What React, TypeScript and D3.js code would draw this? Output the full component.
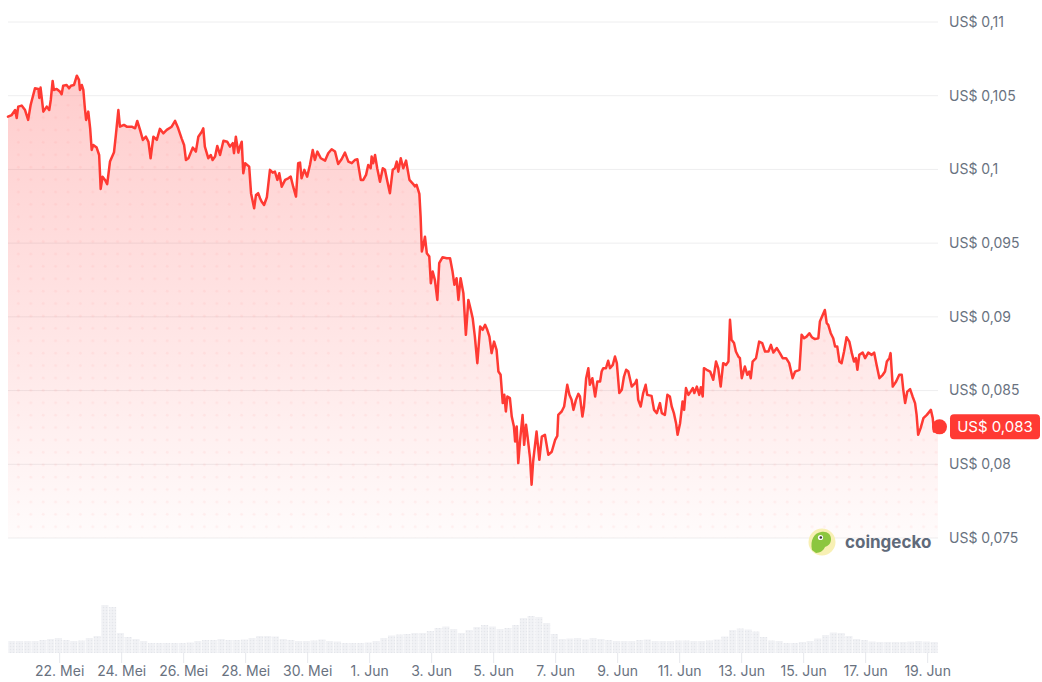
import React from 'react';
import * as d3 from 'd3';

const START = new Date(2025, 4, 20, 8, 0, 0);
const DAY = 86400000;
const SPAN_DAYS = 30;

// [days since start, price in USD]
const priceSeries: [number, number][] = [
  [0,0.10358],[0.12,0.10369],[0.23,0.10403],[0.28,0.10349],[0.33,0.10426],[0.44,0.10433],[0.55,0.10403],[0.65,0.10336],[0.73,0.10437],[0.87,0.10550],[0.98,0.10546],[1.01,0.10485],[1.05,0.10555],[1.14,0.10392],[1.25,0.10426],[1.33,0.10403],[1.38,0.10471],[1.44,0.10600],[1.48,0.10539],[1.57,0.10546],[1.68,0.10527],[1.73,0.10510],[1.78,0.10568],[1.89,0.10573],[1.97,0.10550],[2.03,0.10568],[2.13,0.10573],[2.22,0.10636],[2.29,0.10607],[2.32,0.10539],[2.38,0.10573],[2.43,0.10539],[2.48,0.10415],[2.52,0.10336],[2.59,0.10392],[2.65,0.10279],[2.70,0.10132],[2.75,0.10166],[2.86,0.10148],[2.94,0.10098],[2.99,0.09868],[3.05,0.09951],[3.13,0.09929],[3.20,0.09900],[3.29,0.10053],[3.42,0.10117],[3.48,0.10234],[3.56,0.10403],[3.61,0.10290],[3.74,0.10302],[3.83,0.10290],[3.99,0.10290],[4.10,0.10279],[4.17,0.10329],[4.26,0.10268],[4.35,0.10200],[4.45,0.10222],[4.53,0.10188],[4.60,0.10076],[4.69,0.10222],[4.80,0.10200],[4.90,0.10275],[5.01,0.10245],[5.12,0.10268],[5.28,0.10290],[5.39,0.10329],[5.49,0.10279],[5.60,0.10211],[5.68,0.10166],[5.74,0.10064],[5.82,0.10076],[5.96,0.10148],[6.06,0.10121],[6.14,0.10222],
  [6.25,0.10256],[6.30,0.10279],[6.35,0.10155],[6.46,0.10076],[6.54,0.10098],[6.60,0.10064],[6.68,0.10087],[6.75,0.10159],[6.84,0.10098],[6.95,0.10195],[7.07,0.10188],[7.16,0.10155],[7.25,0.10178],[7.29,0.10110],[7.35,0.10222],[7.43,0.10114],[7.48,0.10155],[7.54,0.10188],[7.59,0.09974],[7.65,0.10042],[7.78,0.10019],[7.84,0.09839],[7.94,0.09737],[8.00,0.09827],[8.07,0.09839],[8.13,0.09805],[8.18,0.09782],[8.26,0.09759],[8.35,0.09811],[8.45,0.09997],[8.54,0.09978],[8.61,0.09985],[8.69,0.09929],[8.75,0.09974],[8.83,0.09883],[8.94,0.09929],[9.04,0.09940],[9.12,0.09951],[9.20,0.09883],[9.29,0.09816],[9.36,0.10042],[9.42,0.10046],[9.47,0.09940],[9.56,0.09997],[9.65,0.09951],[9.74,0.10030],[9.83,0.10132],[9.90,0.10064],[9.98,0.10121],[10.09,0.10076],[10.23,0.10060],[10.33,0.10110],[10.44,0.10137],[10.55,0.10121],[10.65,0.10037],[10.76,0.10069],[10.87,0.10114],[10.98,0.10053],[11.09,0.10042],[11.19,0.10064],[11.27,0.10069],[11.38,0.09929],[11.46,0.09929],[11.55,0.09963],[11.62,0.10030],[11.70,0.10008],[11.73,0.10087],[11.78,0.10042],[11.84,0.10098],[11.91,0.10008],[12.00,0.09917],[12.09,0.10008],[12.16,0.09997],[12.24,0.09917],[12.32,0.09839],[12.41,0.09997],[12.48,0.10008],[12.54,0.10053],[12.59,0.09985],[12.67,0.10076],[12.75,0.10008],[12.84,0.10060],[12.95,0.09929],[13.05,0.09906],[13.13,0.09885],[13.18,0.09895],[13.27,0.09834],
  [13.31,0.09680],[13.35,0.09443],[13.40,0.09488],[13.45,0.09544],[13.51,0.09432],[13.59,0.09409],[13.64,0.09228],[13.70,0.09307],[13.77,0.09251],[13.85,0.09115],[13.91,0.09364],[14.02,0.09405],[14.15,0.09398],[14.26,0.09398],[14.34,0.09307],[14.40,0.09217],[14.47,0.09262],[14.53,0.09115],[14.60,0.09262],[14.69,0.09161],[14.77,0.08878],[14.85,0.09115],[14.93,0.09047],[14.99,0.08991],[15.06,0.08866],[15.14,0.08686],[15.23,0.08934],[15.31,0.08912],[15.39,0.08946],[15.46,0.08912],[15.53,0.08866],[15.60,0.08754],[15.68,0.08832],[15.76,0.08776],[15.82,0.08629],[15.89,0.08607],[15.96,0.08415],[16.01,0.08471],[16.06,0.08358],[16.11,0.08460],[16.19,0.08449],[16.25,0.08324],[16.32,0.08256],[16.36,0.08154],[16.41,0.08256],[16.46,0.08008],[16.52,0.08166],[16.60,0.08335],[16.65,0.08132],[16.71,0.08268],[16.76,0.08188],[16.84,0.08042],[16.89,0.07861],[16.94,0.08019],[17.05,0.08222],[17.14,0.08030],[17.22,0.08188],[17.32,0.08200],[17.43,0.08064],[17.54,0.08085],[17.65,0.08166],[17.72,0.08193],
  [17.75,0.08335],[17.86,0.08358],[17.94,0.08392],[18.04,0.08539],[18.11,0.08471],[18.18,0.08437],[18.24,0.08369],[18.32,0.08437],[18.40,0.08478],[18.45,0.08460],[18.53,0.08324],[18.58,0.08392],[18.65,0.08584],[18.72,0.08652],[18.77,0.08539],[18.85,0.08584],[18.94,0.08460],[19.01,0.08561],[19.10,0.08561],[19.15,0.08629],[19.20,0.08652],[19.29,0.08652],[19.36,0.08702],[19.42,0.08652],[19.51,0.08674],[19.58,0.08731],[19.64,0.08686],[19.72,0.08483],[19.80,0.08505],[19.87,0.08595],[19.94,0.08641],[20.01,0.08629],[20.12,0.08527],[20.23,0.08550],[20.28,0.08573],[20.33,0.08437],[20.41,0.08392],[20.49,0.08483],[20.57,0.08539],[20.62,0.08471],[20.76,0.08464],[20.84,0.08369],[20.93,0.08347],[21.03,0.08415],[21.09,0.08347],[21.19,0.08335],[21.27,0.08471],[21.35,0.08460],[21.41,0.08392],[21.48,0.08347],[21.55,0.08279],[21.60,0.08200],[21.68,0.08279],[21.76,0.08426],[21.81,0.08369],[21.87,0.08517],[21.95,0.08471],[22.02,0.08493],[22.09,0.08517],[22.14,0.08483],[22.22,0.08527],[22.30,0.08471],[22.35,0.08523],[22.41,0.08460],[22.45,0.08652],[22.54,0.08641],[22.65,0.08629],[22.75,0.08573],[22.84,0.08697],[22.91,0.08652],[22.99,0.08527],[23.07,0.08686],[23.16,0.08674],[23.24,0.08697],[23.29,0.08980],[23.34,0.08844],[23.42,0.08822],[23.48,0.08765],[23.56,0.08731],[23.61,0.08720],
  [23.67,0.08584],[23.77,0.08663],[23.85,0.08607],[23.91,0.08629],[23.96,0.08584],[24.02,0.08697],[24.13,0.08720],[24.23,0.08832],[24.33,0.08822],[24.42,0.08765],[24.53,0.08765],[24.61,0.08810],[24.69,0.08758],[24.80,0.08788],[24.90,0.08754],[24.99,0.08720],[25.10,0.08720],[25.20,0.08686],[25.31,0.08584],[25.39,0.08629],[25.53,0.08641],[25.60,0.08878],[25.68,0.08855],[25.76,0.08866],[25.85,0.08889],[25.93,0.08862],[26.03,0.08849],[26.14,0.08855],[26.19,0.08968],[26.28,0.09013],[26.35,0.09047],[26.41,0.08957],[26.46,0.08946],[26.54,0.08889],[26.62,0.08855],[26.68,0.08799],[26.75,0.08799],[26.82,0.08697],[26.89,0.08686],[26.97,0.08765],[27.05,0.08862],[27.14,0.08832],[27.22,0.08754],[27.29,0.08697],[27.35,0.08720],[27.40,0.08641],[27.46,0.08742],[27.57,0.08758],[27.65,0.08720],[27.75,0.08758],[27.86,0.08742],[27.94,0.08758],[28.02,0.08674],[28.11,0.08584],[28.22,0.08607],[28.29,0.08629],[28.35,0.08697],[28.43,0.08720],[28.47,0.08754],[28.54,0.08527],[28.65,0.08561],[28.75,0.08607],[28.83,0.08607],[28.88,0.08505],[28.94,0.08415],[29.01,0.08493],[29.10,0.08510],[29.18,0.08460],[29.26,0.08415],[29.31,0.08335],[29.36,0.08200],[29.44,0.08245],[29.53,0.08313],[29.64,0.08335],[29.77,0.08369],[29.83,0.08313],[29.87,0.08222],[29.96,0.08234],[30.00,0.08254],
];

// trading volume per 6-hour bucket, millions USD
const VOLUME_STEP_DAYS = 0.25;
const volumeSeries: number[] = [
  1.2,1.2,1.2,1.2,1.3,1.4,1.5,1.3,1.2,1.25,1.5,1.7,4.8,4.6,2.0,1.6,1.4,1.2,1.0,1.0,
  1.0,1.0,1.0,1.05,1.2,1.3,1.3,1.4,1.3,1.3,1.35,1.5,1.7,1.7,1.65,1.4,1.3,1.2,1.2,1.25,
  1.35,1.2,1.15,1.0,1.0,1.0,1.05,1.2,1.5,1.75,1.85,1.9,2.0,2.0,2.2,2.5,2.65,2.4,2.0,2.3,
  2.6,2.8,2.65,2.4,2.5,2.8,3.5,3.7,3.6,3.0,1.9,1.4,1.45,1.5,1.35,1.5,1.4,1.3,1.2,1.2,
  1.2,1.3,1.35,1.2,1.2,1.2,1.25,1.25,1.2,1.2,1.25,1.35,1.65,2.3,2.45,2.35,2.15,1.6,1.25,1.2,
  1.0,1.0,1.1,1.2,1.45,1.8,2.05,2.0,1.7,1.4,1.3,1.15,1.1,1.1,1.1,1.1,1.15,1.2,1.15,1.1,
];

const yTicks = [0.075, 0.08, 0.085, 0.09, 0.095, 0.1, 0.105, 0.11];
const xTickDates: [number, number][] = [
  [4,22],[4,24],[4,26],[4,28],[4,30],[5,1],[5,3],[5,5],[5,7],[5,9],[5,11],[5,13],[5,15],[5,17],[5,19],
];
const monthNames = ['Jan','Feb','Mar','Apr','Mei','Jun','Jul','Agu','Sep','Okt','Nov','Des'];

const W = 1042;
const H = 682;
const FONT = 'Inter, "Noto Sans", sans-serif';
const RED = '#ff3a33';
const AXIS_TEXT = '#69727f';

const fmtPrice = (v: number) => 'US$ ' + String(v).replace('.', ',');

export default function App() {
  const x = d3.scaleTime()
    .domain([START, new Date(START.getTime() + SPAN_DAYS * DAY)])
    .range([8, 938]);
  const y = d3.scaleLinear().domain([0.075, 0.11]).range([538, 22]);
  const yv = d3.scaleLinear().domain([0, 5.5]).range([653, 598]);

  const toDate = (d: number) => new Date(START.getTime() + d * DAY);

  const line = d3.line<[number, number]>()
    .x(d => x(toDate(d[0])))
    .y(d => y(d[1]));
  const area = d3.area<[number, number]>()
    .x(d => x(toDate(d[0])))
    .y0(y(0.075))
    .y1(d => y(d[1]));

  const last = priceSeries[priceSeries.length - 1];
  const lastX = x(toDate(last[0]));
  const lastY = y(last[1]);
  const lastLabel = 'US$ ' + last[1].toFixed(3).replace('.', ',');

  const topY = y(d3.max(priceSeries, d => d[1]) as number);

  return (
    <svg width={W} height={H} style={{ position: 'absolute', left: 0, top: 0, background: '#fff' }}
      fontFamily={FONT}>
      <defs>
        <linearGradient id="areaGrad" gradientUnits="userSpaceOnUse" x1="0" y1={topY} x2="0" y2={y(0.075)}>
          <stop offset="0%" stopColor="#ff4a4a" stopOpacity={0.28} />
          <stop offset="60%" stopColor="#ff4a4a" stopOpacity={0.13} />
          <stop offset="100%" stopColor="#ff4a4a" stopOpacity={0.02} />
        </linearGradient>
        <pattern id="dots" width="12.4" height="12.4" patternUnits="userSpaceOnUse">
          <circle cx="6" cy="6" r="1.4" fill="#ff5a5a" fillOpacity={0.07} />
        </pattern>
        <pattern id="volTex" width="3" height="3" patternUnits="userSpaceOnUse">
          <rect width="3" height="3" fill="#f1f2f5" />
          <circle cx="1.5" cy="1.5" r="0.7" fill="#e4e6ea" />
        </pattern>
        <clipPath id="areaClip">
          <path d={area(priceSeries) || ''} />
        </clipPath>
      </defs>

      {/* gridlines */}
      {yTicks.map(t => (
        <line key={t} x1={8} x2={938} y1={y(t)} y2={y(t)} stroke="#eeeeef" strokeWidth={1} />
      ))}

      {/* area */}
      <path d={area(priceSeries) || ''} fill="url(#areaGrad)" />
      <rect x={8} y={0} width={930} height={540} fill="url(#dots)" clipPath="url(#areaClip)" />

      {/* price line */}
      <path d={line(priceSeries) || ''} fill="none" stroke={RED} strokeWidth={2.5} strokeLinejoin="round" strokeLinecap="round" />
      <circle cx={lastX + 1.5} cy={lastY} r={7.5} fill={RED} />

      {/* y labels */}
      {yTicks.map(t => (
        <text key={t} x={949} y={y(t)} dy="0.35em" fontSize={14} fill={AXIS_TEXT}>{fmtPrice(t)}</text>
      ))}

      {/* last price badge */}
      <rect x={950} y={lastY - 12.5} width={90} height={25} rx={4} fill={RED} />
      <text x={995} y={lastY} dy="0.36em" textAnchor="middle" fontSize={15} fill="#fff">{lastLabel}</text>

      {/* coingecko watermark */}
      <g transform="translate(822,542)">
        <circle r={13.5} fill="#f8f0b4" />
        <path d="M-10,8 C-12,-2 -8,-9 -1,-10 C5,-11 9,-8 9,-3 C9,2 6,4 3,5 C2,8 -2,11 -6,11 Z" fill="#8cc63f" />
        <circle cx={-1.5} cy={-4.5} r={2.6} fill="#fff" />
        <circle cx={-1.2} cy={-4.5} r={1.3} fill="#3c3c3c" />
      </g>
      <text x={845} y={542} dy="0.35em" fontSize={17} fontWeight={700} fill="#5f6a7a">coingecko</text>

      {/* volume bars */}
      {volumeSeries.map((v, i) => {
        const d0 = toDate(i * VOLUME_STEP_DAYS);
        const d1 = toDate((i + 1) * VOLUME_STEP_DAYS);
        const x0 = x(d0);
        const w = x(d1) - x0 - 0.6;
        return <rect key={i} x={x0 + 0.3} y={yv(v)} width={w} height={yv(0) - yv(v)} fill="url(#volTex)" />;
      })}

      {/* x ticks and labels */}
      {xTickDates.map(([m, dd]) => {
        const dt = new Date(2025, m, dd);
        const px = x(dt);
        return (
          <g key={`${m}-${dd}`}>
            <line x1={px} x2={px} y1={653} y2={663} stroke="#e6e8ec" strokeWidth={1} />
            <text x={px} y={671} dy="0.35em" textAnchor="middle" fontSize={14} fill={AXIS_TEXT}>
              {`${dd}. ${monthNames[m]}`}
            </text>
          </g>
        );
      })}
    </svg>
  );
}
